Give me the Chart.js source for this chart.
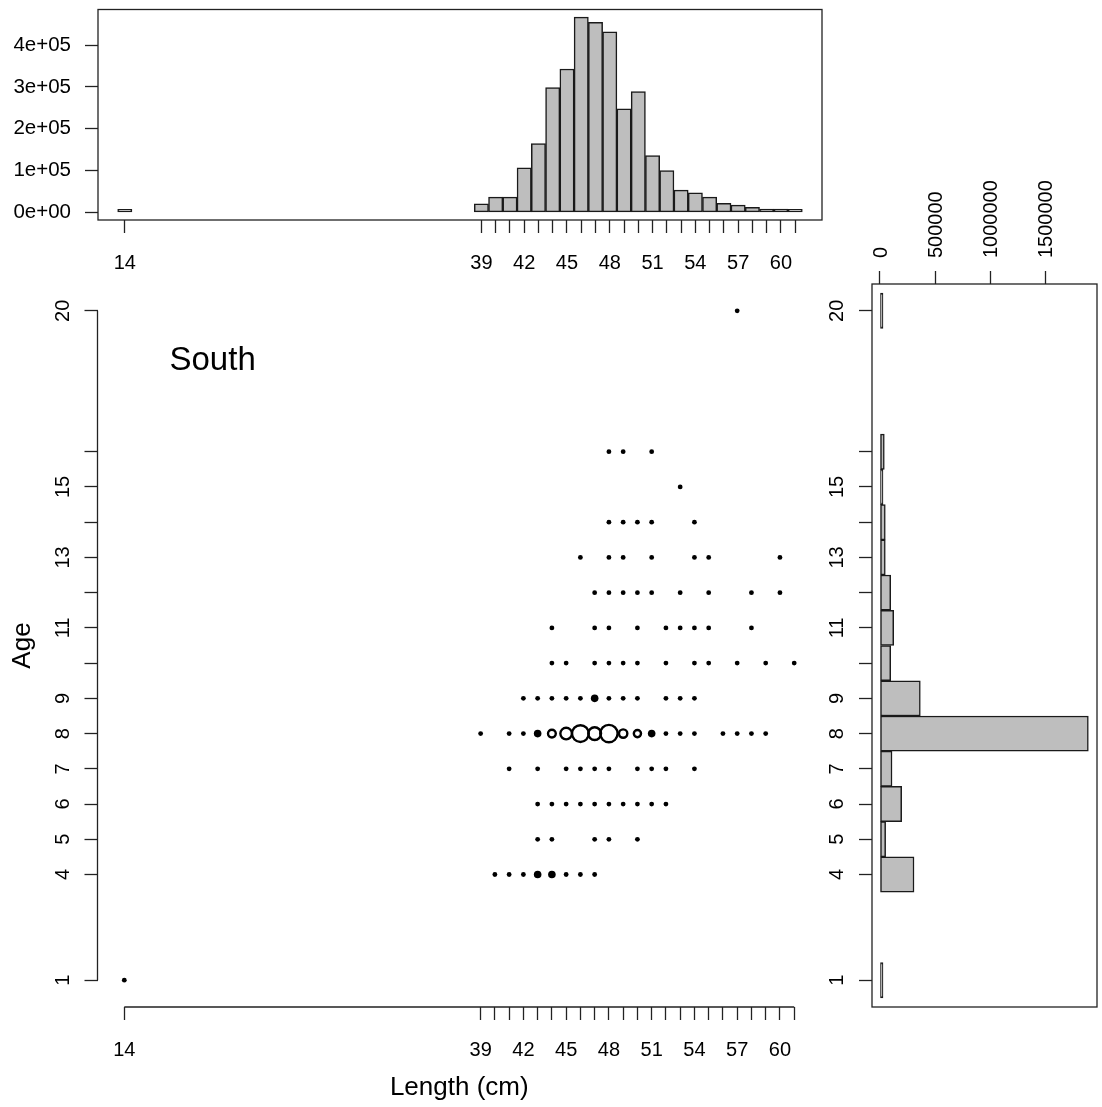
<!DOCTYPE html>
<html>
<head>
<meta charset="utf-8">
<title>South - length and age</title>
<script src="https://cdn.jsdelivr.net/npm/chart.js@4.4.1/dist/chart.umd.min.js"></script>
<style>
  body { margin: 0; background: #fff; }
  #wrap { position: relative; width: 1102px; height: 1107px; overflow: hidden; }
  canvas { position: absolute; }
  #lenHist { left: 0; top: 0; }
  #scatter { left: 0; top: 280px; }
  #ageHist { left: 790px; top: 160px; }
</style>
</head>
<body>
<div id="wrap">
  <canvas id="lenHist" width="840" height="280"></canvas>
  <canvas id="scatter" width="840" height="827"></canvas>
  <canvas id="ageHist" width="312" height="947"></canvas>
</div>
<script>
// Length frequency (top panel)
const lengthBins = [14, 39, 40, 41, 42, 43, 44, 45, 46, 47, 48, 49, 50, 51, 52, 53, 54, 55, 56, 57, 58, 59, 60, 61];
const lengthFreq = [2000, 20750, 36700, 36700, 106600, 164600, 298200, 342800, 466800, 454200, 431800, 247400,
                    288700, 136000, 100200, 53400, 47000, 36700, 21500, 17600, 11900, 8100, 8100, 5700];

// Age frequency (right panel)
const ageBins = [1, 4, 5, 6, 7, 8, 9, 10, 11, 12, 13, 14, 15, 16, 20];
const ageFreq = [3000, 308000, 51000, 196000, 109000, 1886000, 365000, 97000, 124000, 97000, 48000, 48000, 5000, 39000, 3000];

// Age-length observations, one row per age
const scatterAges = [20, 16, 15, 14, 13, 12, 11, 10, 9, 8, 7, 6, 5, 4, 1];
const scatterLengths = [
  [57],
  [48, 49, 51],
  [53],
  [48, 49, 50, 51, 54],
  [46, 48, 49, 51, 54, 55, 60],
  [47, 48, 49, 50, 51, 53, 55, 58, 60],
  [44, 47, 48, 50, 52, 53, 54, 55, 58],
  [44, 45, 47, 48, 49, 50, 52, 54, 55, 57, 59, 61],
  [42, 43, 44, 45, 46, 47, 48, 49, 50, 52, 53, 54],
  [39, 41, 42, 43, 44, 45, 46, 47, 48, 49, 50, 51, 52, 53, 54, 56, 57, 58, 59],
  [41, 43, 45, 46, 47, 48, 50, 51, 52, 54],
  [43, 44, 45, 46, 47, 48, 49, 50, 51, 52],
  [43, 44, 47, 48, 50],
  [40, 41, 42, 43, 44, 45, 46, 47],
  [14]
];
// [length, age, relative weight] for the bigger symbols; everything else weighs 1
const heavyPoints = [
  [47, 9, 2.5],
  [43, 8, 2.5], [44, 8, 4.5], [45, 8, 8.5], [46, 8, 16], [47, 8, 10], [48, 8, 17], [49, 8, 5], [50, 8, 4], [51, 8, 2.5],
  [43, 4, 2.5], [44, 4, 2.5]
];

// Axis ticks
const lengthTicks = [14, 39, 40, 41, 42, 43, 44, 45, 46, 47, 48, 49, 50, 51, 52, 53, 54, 55, 56, 57, 58, 59, 60, 61];
const lengthLabels = [14, 39, 42, 45, 48, 51, 54, 57, 60];
const ageTicks = [1, 4, 5, 6, 7, 8, 9, 10, 11, 12, 13, 14, 15, 16, 20];
const ageLabels = [1, 4, 5, 6, 7, 8, 9, 11, 13, 15, 20];
const lengthFreqTicks = [0, 100000, 200000, 300000, 400000];
const ageFreqTicks = [0, 500000, 1000000, 1500000];

// Shared ranges (R style 4% extension)
const lengthRange = [12.12, 62.88];
const ageRange = [0.24, 20.76];

const axisColor = '#222';
const barFill = '#bebebe';
const barEdge = '#1a1a1a';

Chart.defaults.font.family = '"Liberation Sans", Arial, sans-serif';
Chart.defaults.font.size = 20;
Chart.defaults.color = '#000';

function rSci(v) {
  if (v === 0) return '0e+00';
  const parts = v.toExponential().split('e');
  const n = parseInt(parts[1], 10);
  return parts[0] + 'e' + (n < 0 ? '-' : '+') + String(Math.abs(n)).padStart(2, '0');
}

function fixTicks(values) {
  return function(scale) {
    scale.ticks = values.map(v => ({ value: v }));
  };
}

function fixSize(prop, size) {
  return function(scale) {
    scale[prop] = size;
    scale.paddingLeft = 0;
    scale.paddingRight = 0;
    scale.paddingTop = 0;
    scale.paddingBottom = 0;
  };
}

const tickGrid = {
  drawOnChartArea: false,
  drawTicks: true,
  tickLength: 13,
  tickColor: axisColor,
  tickWidth: 1.3,
  color: axisColor,
  offset: false
};

const baseOptions = {
  responsive: false,
  animation: false,
  events: [],
  devicePixelRatio: 1,
  plugins: { legend: { display: false }, tooltip: { enabled: false } }
};

// Box round the plot area (histogram panels)
const boxPlugin = {
  id: 'box',
  afterDraw(chart) {
    const a = chart.chartArea;
    const ctx = chart.ctx;
    ctx.save();
    ctx.strokeStyle = axisColor;
    ctx.lineWidth = 1.3;
    ctx.strokeRect(a.left, a.top, a.right - a.left, a.bottom - a.top);
    ctx.restore();
  }
};

// Axis lines that only span the tick range, like base R graphics
const rAxesPlugin = {
  id: 'rAxes',
  afterDraw(chart) {
    const { x, y } = chart.scales;
    const a = chart.chartArea;
    const ctx = chart.ctx;
    ctx.save();
    ctx.strokeStyle = axisColor;
    ctx.lineWidth = 1.3;
    ctx.beginPath();
    ctx.moveTo(x.getPixelForValue(lengthTicks[0]), a.bottom);
    ctx.lineTo(x.getPixelForValue(lengthTicks[lengthTicks.length - 1]), a.bottom);
    ctx.moveTo(a.left, y.getPixelForValue(ageTicks[0]));
    ctx.lineTo(a.left, y.getPixelForValue(ageTicks[ageTicks.length - 1]));
    ctx.stroke();
    ctx.restore();
  }
};

const regionLabel = {
  id: 'regionLabel',
  afterDraw(chart) {
    const a = chart.chartArea;
    const ctx = chart.ctx;
    ctx.save();
    ctx.fillStyle = '#000';
    ctx.font = '33px "Liberation Sans", Arial, sans-serif';
    ctx.textBaseline = 'alphabetic';
    ctx.fillText('South', a.left + 72, a.top + 86);
    ctx.restore();
  }
};

// ---- top: length histogram ----
new Chart(document.getElementById('lenHist'), {
  type: 'bar',
  data: {
    datasets: [{
      data: lengthBins.map((l, i) => ({ x: l, y: lengthFreq[i] })),
      backgroundColor: barFill,
      borderColor: barEdge,
      borderWidth: 1.5,
      borderSkipped: false,
      categoryPercentage: 1,
      barPercentage: 1,
      minBarLength: 3
    }]
  },
  options: Object.assign({}, baseOptions, {
    layout: { autoPadding: false, padding: { top: 9.5, right: 18, left: 0, bottom: 0 } },
    scales: {
      x: {
        type: 'linear', min: lengthRange[0], max: lengthRange[1], offset: false,
        grid: tickGrid, border: { display: false },
        afterBuildTicks: fixTicks(lengthTicks),
        afterFit: fixSize('height', 60),
        ticks: {
          autoSkip: false, minRotation: 0, maxRotation: 0, padding: 18,
          callback: v => lengthLabels.includes(v) ? String(v) : ''
        }
      },
      y: {
        type: 'linear', min: -18100, max: 485100,
        grid: tickGrid, border: { display: false },
        afterBuildTicks: fixTicks(lengthFreqTicks),
        afterFit: fixSize('width', 98),
        ticks: { autoSkip: false, padding: 14, font: { size: 20.5 }, callback: v => rSci(v) }
      }
    }
  }),
  plugins: [boxPlugin]
});

// ---- main: age vs length ----
const weightOf = {};
heavyPoints.forEach(p => { weightOf[p[0] + '-' + p[1]] = p[2]; });
const scatterPoints = [];
scatterAges.forEach((age, r) => {
  scatterLengths[r].forEach(len => {
    scatterPoints.push({ x: len, y: age, w: weightOf[len + '-' + age] || 1 });
  });
});

new Chart(document.getElementById('scatter'), {
  type: 'scatter',
  data: {
    datasets: [{
      data: scatterPoints,
      pointRadius: ctx => {
        const w = ctx.raw.w;
        return w >= 4 ? 2.4 * Math.sqrt(w) - 1.2 : 2.4 * Math.sqrt(w);
      },
      pointBackgroundColor: ctx => ctx.raw.w >= 4 ? 'rgba(0,0,0,0)' : '#000',
      pointBorderColor: '#000',
      pointBorderWidth: ctx => ctx.raw.w >= 4 ? 2.4 : 0
    }]
  },
  options: Object.assign({}, baseOptions, {
    layout: { autoPadding: false, padding: { top: 4, right: 19, left: 0, bottom: 0 } },
    scales: {
      x: {
        type: 'linear', min: lengthRange[0], max: lengthRange[1],
        grid: tickGrid, border: { display: false },
        afterBuildTicks: fixTicks(lengthTicks),
        afterFit: fixSize('height', 100),
        ticks: {
          autoSkip: false, minRotation: 0, maxRotation: 0, padding: 18,
          callback: v => lengthLabels.includes(v) ? String(v) : ''
        },
        title: { display: true, text: 'Length (cm)', font: { size: 26 }, padding: { top: 0, bottom: 4 } }
      },
      y: {
        type: 'linear', min: ageRange[0], max: ageRange[1],
        grid: tickGrid, border: { display: false },
        afterBuildTicks: fixTicks(ageTicks),
        afterFit: fixSize('width', 97.5),
        ticks: {
          autoSkip: false, minRotation: 90, maxRotation: 90, crossAlign: 'center', padding: 10,
          callback: v => ageLabels.includes(v) ? String(v) : ''
        },
        title: { display: true, text: 'Age', font: { size: 26 }, padding: { top: 7, bottom: 0 } }
      }
    }
  }),
  plugins: [rAxesPlugin, regionLabel]
});

// ---- right: age histogram ----
new Chart(document.getElementById('ageHist'), {
  type: 'bar',
  data: {
    datasets: [{
      data: ageBins.map((a, i) => ({ x: ageFreq[i], y: a })),
      backgroundColor: barFill,
      borderColor: barEdge,
      borderWidth: 1.5,
      borderSkipped: false,
      categoryPercentage: 1,
      barPercentage: 1,
      minBarLength: 3
    }]
  },
  options: Object.assign({}, baseOptions, {
    indexAxis: 'y',
    layout: { autoPadding: false, padding: { top: 0, right: 5, bottom: 100, left: 0 } },
    scales: {
      x: {
        type: 'linear', position: 'top', min: -72420, max: 1964400,
        grid: tickGrid, border: { display: false },
        afterBuildTicks: fixTicks(ageFreqTicks),
        afterFit: fixSize('height', 124),
        ticks: {
          autoSkip: false, minRotation: 90, maxRotation: 90, padding: 13, labelOffset: 25,
          callback: v => String(v)
        }
      },
      y: {
        type: 'linear', min: ageRange[0], max: ageRange[1], offset: false,
        grid: tickGrid, border: { display: false },
        afterBuildTicks: fixTicks(ageTicks),
        afterFit: fixSize('width', 82),
        ticks: {
          autoSkip: false, minRotation: 90, maxRotation: 90, crossAlign: 'center', padding: 10,
          callback: v => ageLabels.includes(v) ? String(v) : ''
        }
      }
    }
  }),
  plugins: [boxPlugin]
});
</script>
</body>
</html>
